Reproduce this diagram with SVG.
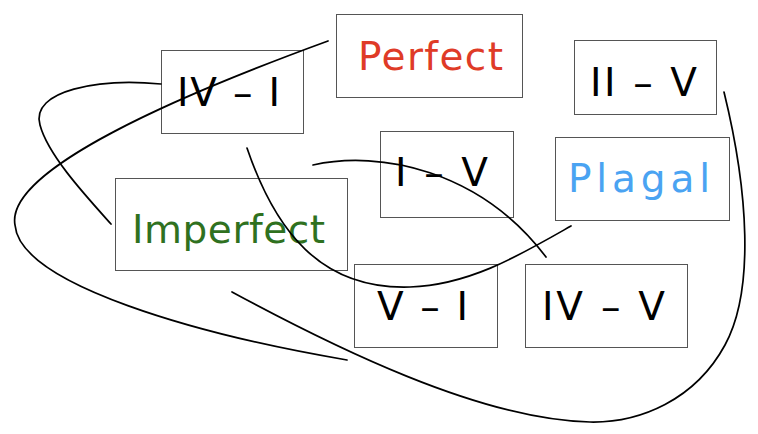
<svg xmlns="http://www.w3.org/2000/svg" width="758" height="434" viewBox="0 0 758 434">
<style>
.box{fill:none;stroke:#555;stroke-width:1}
.t{font-family:"DejaVu Sans","Liberation Sans",Arial,sans-serif;font-size:39px;fill:#000}
.edge{fill:none;stroke:#000;stroke-width:1.7;stroke-linecap:round}
</style>
<rect width="758" height="434" fill="#fff"/>
<g id="node-perfect"><rect class="box" x="336.5" y="14.5" width="186" height="83"/><text class="t" x="358" y="70" textLength="145" style="fill:#df3b27">Perfect</text></g>
<g id="node-iv-i"><rect class="box" x="161.5" y="50.5" width="142" height="83"/><text class="t" x="177" y="106" textLength="103">IV – I</text></g>
<g id="node-ii-v"><rect class="box" x="574.5" y="40.5" width="142" height="74"/><text class="t" x="590" y="96" textLength="107">II – V</text></g>
<g id="node-i-v"><rect class="box" x="380.5" y="131.5" width="133" height="86"/><text class="t" x="395" y="186" textLength="93">I – V</text></g>
<g id="node-plagal"><rect class="box" x="555.5" y="137.5" width="174" height="83"/><text class="t" x="568" y="192" textLength="142" style="fill:#4aa3f2">Plagal</text></g>
<g id="node-imperfect"><rect class="box" x="115.5" y="178.5" width="232" height="92"/><text class="t" x="132" y="243" textLength="193" style="fill:#2f711f">Imperfect</text></g>
<g id="node-v-i"><rect class="box" x="354.5" y="264.5" width="143" height="83"/><text class="t" x="377" y="320" textLength="91">V – I</text></g>
<g id="node-iv-v"><rect class="box" x="525.5" y="264.5" width="162" height="83"/><text class="t" x="542" y="320" textLength="123">IV – V</text></g>
<g id="connectors">
<path class="edge" d="M328,41 C180,95 5,170 15,225 C20,285 200,335 347,360"/>
<path class="edge" d="M161,84 C100,78 30,90 40,125 C48,155 85,195 111,224"/>
<path class="edge" d="M247,148 C275,230 320,290 410,287 C470,285 520,255 571,226"/>
<path class="edge" d="M313,165 C380,150 480,170 546,257"/>
<path class="edge" d="M724,92 C748,190 755,290 725,345 C695,400 640,423 590,422 C480,420 330,345 232,292"/>
</g>
</svg>
